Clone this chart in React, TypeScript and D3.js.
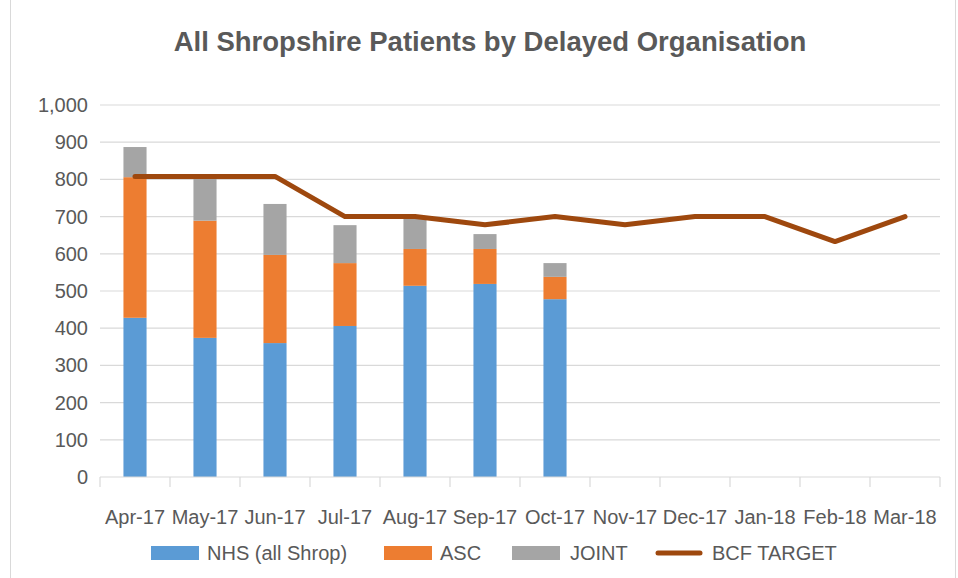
import React from "react";
import * as d3 from "d3";

const months = ["Apr-17", "May-17", "Jun-17", "Jul-17", "Aug-17", "Sep-17", "Oct-17", "Nov-17", "Dec-17", "Jan-18", "Feb-18", "Mar-18"];
const nhs = [428, 374, 360, 406, 514, 519, 478, null, null, null, null, null];
const asc = [378, 315, 237, 169, 99, 94, 60, null, null, null, null, null];
const joint = [81, 114, 137, 102, 86, 40, 37, null, null, null, null, null];
const bcfTarget = [808, 808, 808, 700, 700, 678, 700, 678, 700, 700, 633, 700];
const yTicks = [0, 100, 200, 300, 400, 500, 600, 700, 800, 900, 1000];

const seriesNames = ["NHS (all Shrop)", "ASC", "JOINT"];
const colors = ["#5b9bd5", "#ed7d31", "#a5a5a5"];
const lineColor = "#9e480e";
const textColor = "#595959";
const gridColor = "#d9d9d9";
const font = "'Liberation Sans', Arial, sans-serif";

const App = () => {
  const W = 958;
  const H = 578;
  const left = 100;
  const right = 940;
  const top = 105;
  const bottom = 477;

  const x = d3.scaleBand().domain(months).range([left, right]).paddingInner(0.67).paddingOuter(0.335);
  const y = d3.scaleLinear().domain([0, 1000]).range([bottom, top]);

  // build rows for the stack from the small arrays
  const rows = months.map((m, i) => ({ month: m, nhs: nhs[i] ?? 0, asc: asc[i] ?? 0, joint: joint[i] ?? 0 }));
  const stacked = d3.stack<any>().keys(["nhs", "asc", "joint"])(rows);

  const line = d3
    .line<number>()
    .x((d, i) => (x(months[i]) as number) + x.bandwidth() / 2)
    .y((d) => y(d));

  const step = x.step();
  const tickXs = d3.range(months.length + 1).map((i) => left + i * step);

  const legendItems = [
    { label: seriesNames[0], color: colors[0], sx: 151, tx: 207, kind: "rect" },
    { label: seriesNames[1], color: colors[1], sx: 384, tx: 440, kind: "rect" },
    { label: seriesNames[2], color: colors[2], sx: 512, tx: 570, kind: "rect" },
    { label: "BCF TARGET", color: lineColor, sx: 655, tx: 712, kind: "line" },
  ];

  return (
    <div style={{ position: "absolute", left: 0, top: 0 }}>
      <svg width={W} height={H} style={{ display: "block", background: "#fff" }}>
        <rect x={10.5} y={-1} width={945} height={H + 2} fill="#fff" stroke={gridColor} />
        <text x={490} y={51} textAnchor="middle" fontFamily={font} fontWeight="bold" fontSize={27.5} fill={textColor}>
          All Shropshire Patients by Delayed Organisation
        </text>

        {yTicks.map((t) => (
          <g key={t}>
            {t > 0 && <line x1={left} x2={right} y1={y(t)} y2={y(t)} stroke={gridColor} strokeWidth={1.2} />}
            <text x={88} y={y(t) + 7} textAnchor="end" fontFamily={font} fontSize={20} fill={textColor}>
              {d3.format(",")(t)}
            </text>
          </g>
        ))}

        {stacked.map((s, si) => (
          <g key={si} fill={colors[si]}>
            {s.map((d, i) =>
              d[1] - d[0] > 0 ? (
                <rect key={i} x={x(months[i])} y={y(d[1])} width={x.bandwidth()} height={y(d[0]) - y(d[1])} />
              ) : null
            )}
          </g>
        ))}

        <line x1={left} x2={right} y1={bottom} y2={bottom} stroke={gridColor} strokeWidth={1.2} />
        {tickXs.map((tx, i) => (
          <line key={i} x1={tx} x2={tx} y1={bottom} y2={bottom + 10} stroke={gridColor} strokeWidth={1.2} />
        ))}
        {months.map((m) => (
          <text key={m} x={(x(m) as number) + x.bandwidth() / 2} y={524} textAnchor="middle" fontFamily={font} fontSize={20} fill={textColor}>
            {m}
          </text>
        ))}

        <path d={line(bcfTarget) as string} fill="none" stroke={lineColor} strokeWidth={5} strokeLinecap="round" strokeLinejoin="round" />

        {legendItems.map((it) => (
          <g key={it.label}>
            {it.kind === "rect" ? (
              <rect x={it.sx} y={546} width={48} height={14} fill={it.color} />
            ) : (
              <line x1={it.sx + 3} x2={it.sx + 45} y1={553} y2={553} stroke={it.color} strokeWidth={5} strokeLinecap="round" />
            )}
            <text x={it.tx} y={560} fontFamily={font} fontSize={20} fill={textColor}>
              {it.label}
            </text>
          </g>
        ))}
      </svg>
    </div>
  );
};

export default App;
